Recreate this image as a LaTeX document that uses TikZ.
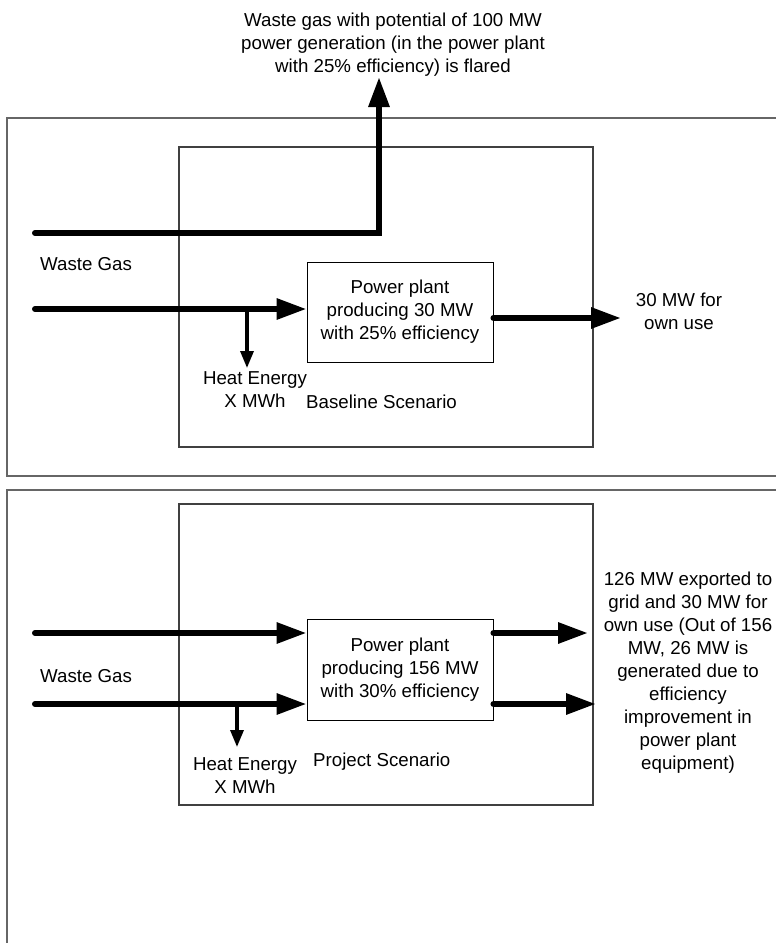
\documentclass[tikz,border=0pt]{standalone}
\usepackage{fontspec}
\setmainfont{Liberation Sans}
\usetikzlibrary{arrows.meta,positioning}

\begin{document}
\begin{tikzpicture}[
        x=1pt, y=-1pt,
        every node/.style={font=\fontsize{18.7}{23}\selectfont, align=center, inner sep=0pt},
        frame/.style={draw=black!60, line width=1.4pt},
        scenario/.style={draw=black!75, line width=1.1pt},
        plant/.style={draw, line width=0.9pt, minimum width=186pt, minimum height=100pt},
        flow/.style={line width=6pt, line cap=round, line join=miter, -{Triangle[length=30pt,width=20pt]}},
        heat/.style={line width=3.3pt, -{Triangle[length=17pt,width=13pt]}}
    ]
    \useasboundingbox (0,0) rectangle (776,943);
    \clip (0,0) rectangle (776,943);

    % baseline scenario
    \draw[frame] (7,118) rectangle (800,476);
    \draw[scenario] (179,147) rectangle (593,447);
    \node[plant] (plant1) at (400,312) {Power plant\\producing 30 MW\\with 25\% efficiency};
    \node (flared) at (393,45) {Waste gas with potential of 100 MW\\power generation (in the power plant\\with 25\% efficiency) is flared};
    \node[anchor=west] (gas1) at (40,264) {Waste Gas};
    \node (heat1) at (255,390) {Heat Energy\\X MWh};
    \node[anchor=west] (base) at (306,402) {Baseline Scenario};
    \node (own1) at (679,311) {30 MW for\\own use};

    \coordinate (flare1) at (35,233);
    \coordinate (flaretip) at (379,77);
    \coordinate (feed1) at (35,309);
    \coordinate (tap1) at (247,309);
    \coordinate (heat1tip) at (247,368);
    \coordinate (use1) at (621,318);

    \draw[flow] (flare1) -| (flaretip);
    \draw[flow] (feed1) -- (feed1 -| plant1.west);
    \draw[heat] (tap1) -- (heat1tip);
    \draw[flow] (plant1.east |- use1) -- (use1);

    % project scenario
    \draw[frame] (7,490) rectangle (800,960);
    \draw[scenario] (179,504) rectangle (593,805);
    \node[plant, minimum height=101pt] (plant2) at (400,669.5) {Power plant\\producing 156 MW\\with 30\% efficiency};
    \node[anchor=west] (gas2) at (40,676) {Waste Gas};
    \node (heat2) at (245,776) {Heat Energy\\X MWh};
    \node[anchor=west] (project) at (313,762) {Project Scenario};
    \node (export) at (688,672.5) {126 MW exported to\\grid and 30 MW for\\own use (Out of 156\\MW, 26 MW is\\generated due to\\efficiency\\improvement in\\power plant\\equipment)};

    \coordinate (feed2a) at (35,633);
    \coordinate (feed2b) at (35,704);
    \coordinate (tap2) at (237,704);
    \coordinate (heat2tip) at (237,747);
    \coordinate (grid2a) at (588,633);
    \coordinate (grid2b) at (596,704);

    \draw[flow] (feed2a) -- (feed2a -| plant2.west);
    \draw[flow] (feed2b) -- (feed2b -| plant2.west);
    \draw[heat] (tap2) -- (heat2tip);
    \draw[flow] (plant2.east |- grid2a) -- (grid2a);
    \draw[flow] (plant2.east |- grid2b) -- (grid2b);
\end{tikzpicture}
\end{document}
